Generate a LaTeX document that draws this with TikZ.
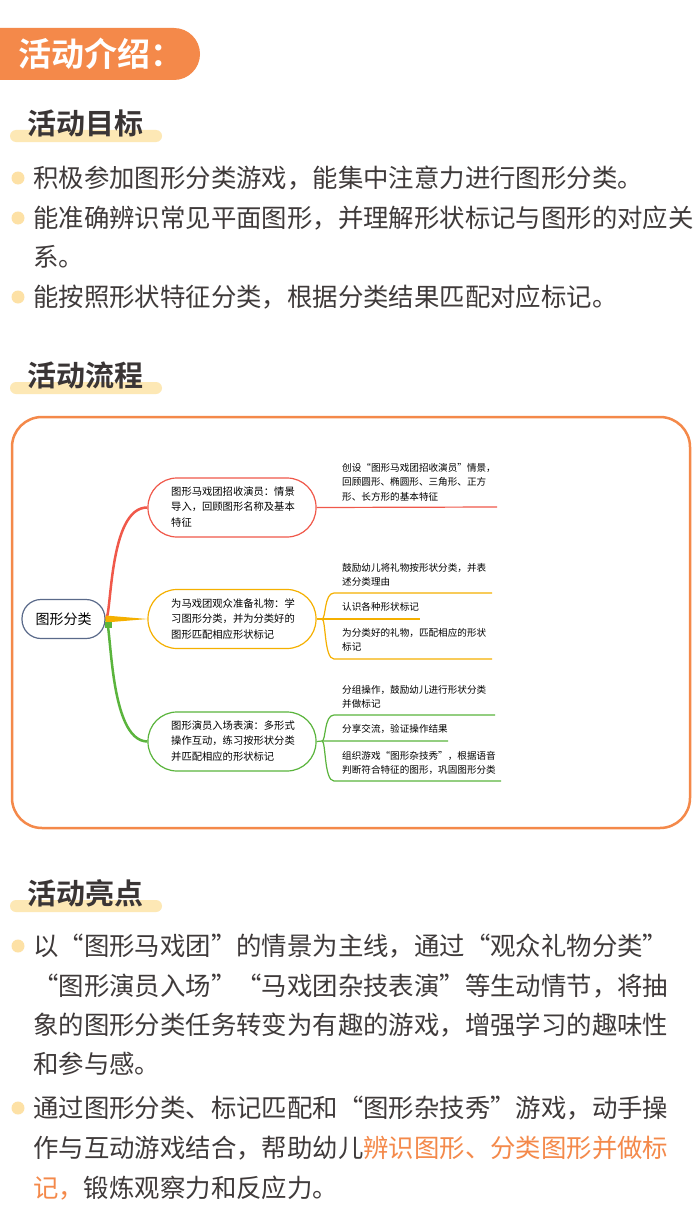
\documentclass[tikz,border=0pt]{standalone}
\usepackage{fontspec}
\setmainfont{Noto Sans CJK SC}[BoldFont={Noto Sans CJK SC Bold}]
\begin{document}
\begin{tikzpicture}[x=1pt,y=-1pt,
  txt/.style={anchor=west,inner sep=0,text=textc,font=\fontsize{25.4}{28}\selectfont},
  head/.style={anchor=west,inner sep=0,text=headc,font=\fontsize{29}{32}\selectfont\bfseries},
  bar/.style={fill=barc,rounded corners=6pt},
  dot/.style={circle,fill=dotc,inner sep=0,minimum size=13pt},
  br/.style={draw=#1,line width=1.2pt,rounded corners=29pt,minimum width=168pt,minimum height=59pt,inner sep=0},
  bt/.style={anchor=west,inner sep=0,align=left,font=\fontsize{10.3}{15.2}\selectfont,text=black},
  lt/.style={anchor=west,inner sep=0,align=left,font=\fontsize{9.6}{14.5}\selectfont,text=black},
  ln/.style={draw=#1,line width=1.2pt}]
\definecolor{orng}{HTML}{F4894A}
\definecolor{barc}{HTML}{FDE8B5}
\definecolor{dotc}{HTML}{FDE1A6}
\definecolor{textc}{HTML}{3F3A3A}
\definecolor{headc}{HTML}{3A3535}
\definecolor{redc}{HTML}{F0584A}
\definecolor{yelc}{HTML}{F5B000}
\definecolor{grnc}{HTML}{5AB43C}
\definecolor{rootc}{HTML}{5A6A8A}
\useasboundingbox (0,0) rectangle (700,1228);
\fill[white] (0,0) rectangle (700,1228);
% header
\fill[orng,rounded corners=26pt] (-40,28) rectangle (200,80);
\node[anchor=west,inner sep=0,text=white,font=\fontsize{33}{36}\selectfont\bfseries] (h0) at (18,54) {活动介绍：};
% section 1
\fill[bar] (10,130) rectangle (162,142);
\node[head] (h1) at (27,123) {活动目标};
\node[dot] (d1) at (18,178) {}; \node[txt] (t1) at (33,178) {积极参加图形分类游戏，能集中注意力进行图形分类。};
\node[dot] (d2) at (18,218) {}; \node[txt] (t2) at (33,218) {能准确辨识常见平面图形，并理解形状标记与图形的对应关};
\node[txt] (t2b) at (33,257) {系。};
\node[dot] (d3) at (18,297) {}; \node[txt] (t3) at (33,297) {能按照形状特征分类，根据分类结果匹配对应标记。};
% section 2
\fill[bar] (10,382) rectangle (162,394);
\node[head] (h2) at (27,375) {活动流程};
\draw[orng,line width=2.5pt,rounded corners=30pt] (12,417) rectangle (690,828);
% mind map
\node[draw=rootc,line width=1.2pt,rounded corners=19pt,minimum width=83pt,minimum height=39pt,font=\fontsize{14}{16}\selectfont] (root) at (63.5,619) {图形分类};
\node[br=redc] (b1) at (232,507.5) {};
\node[br=yelc] (b2) at (232,619) {};
\node[br=grnc] (b3) at (232,741.5) {};
\node[bt] (bt1) at (171,507) {图形马戏团招收演员：情景\\导入，回顾图形名称及基本\\特征};
\node[bt] (bt2) at (171,619) {为马戏团观众准备礼物：学\\习图形分类，并为分类好的\\图形匹配相应形状标记};
\node[bt] (bt3) at (171,741) {图形演员入场表演：多形式\\操作互动，练习按形状分类\\并匹配相应的形状标记};
\draw[redc,line width=2.5pt] (root.east) .. controls (112,619) and (108,507) .. (b1.west);
\draw[grnc,line width=2.5pt] (root.east) .. controls (112,619) and (108,741) .. (b3.west);
\fill[yelc] ([yshift=-3.5]root.east) -- (b2.west) -- ([yshift=3.5]root.east) -- cycle;
\fill[grnc] ([xshift=-1,yshift=-3]root.east) rectangle ++(7,6);
% leaves branch 1
\coordinate (r1) at (497,507);
\draw[ln=redc] (b1.east) -- (r1);
\node[lt] (l11) at (342,482) {创设“图形马戏团招收演员”情景，\\回顾圆形、椭圆形、三角形、正方\\形、长方形的基本特征};
% branch 2
\coordinate (j2) at (322,619);
\coordinate (e21) at (492,593);\coordinate (e22) at (420,619);\coordinate (e23) at (492,659);
\draw[ln=yelc] (b2.east) -- (j2) -- (e22);
\draw[ln=yelc] (j2) .. controls (326,619) and (324,593) .. (334,593) -- (e21);
\draw[ln=yelc] (j2) .. controls (326,619) and (324,659) .. (334,659) -- (e23);
\node[lt] (l21) at (342,575) {鼓励幼儿将礼物按形状分类，并表\\述分类理由};
\node[lt] (l22) at (342,607) {认识各种形状标记};
\node[lt] (l23) at (342,640) {为分类好的礼物，匹配相应的形状\\标记};
% branch 3
\coordinate (j3) at (322,741);
\coordinate (e31) at (495,715);\coordinate (e32) at (448,741);\coordinate (e33) at (501,781);
\draw[ln=grnc] (b3.east) -- (j3) -- (e32);
\draw[ln=grnc] (j3) .. controls (326,741) and (324,715) .. (334,715) -- (e31);
\draw[ln=grnc] (j3) .. controls (326,741) and (324,781) .. (334,781) -- (e33);
\node[lt] (l31) at (342,697) {分组操作，鼓励幼儿进行形状分类\\并做标记};
\node[lt] (l32) at (342,729) {分享交流，验证操作结果};
\node[lt] (l33) at (342,763) {组织游戏“图形杂技秀”，根据语音\\判断符合特征的图形，巩固图形分类};
% section 3
\fill[bar] (10,900) rectangle (162,912);
\node[head] (h3) at (27,893) {活动亮点};
\node[dot] (d4) at (18,946) {};
\node[txt] (t41) at (33,946) {以“图形马戏团”的情景为主线，通过“观众礼物分类”};
\node[txt] (t42) at (33,986) {“图形演员入场”“马戏团杂技表演”等生动情节，将抽};
\node[txt] (t43) at (33,1025) {象的图形分类任务转变为有趣的游戏，增强学习的趣味性};
\node[txt] (t44) at (33,1064) {和参与感。};
\node[dot] (d5) at (18,1108) {};
\node[txt] (t51) at (33,1108) {通过图形分类、标记匹配和“图形杂技秀”游戏，动手操};
\node[txt] (t52) at (33,1148) {作与互动游戏结合，帮助幼儿\textcolor{orng}{辨识图形、分类图形并做标}};
\node[txt] (t53) at (33,1188) {\textcolor{orng}{记，}锻炼观察力和反应力。};
\end{tikzpicture}
\end{document}
